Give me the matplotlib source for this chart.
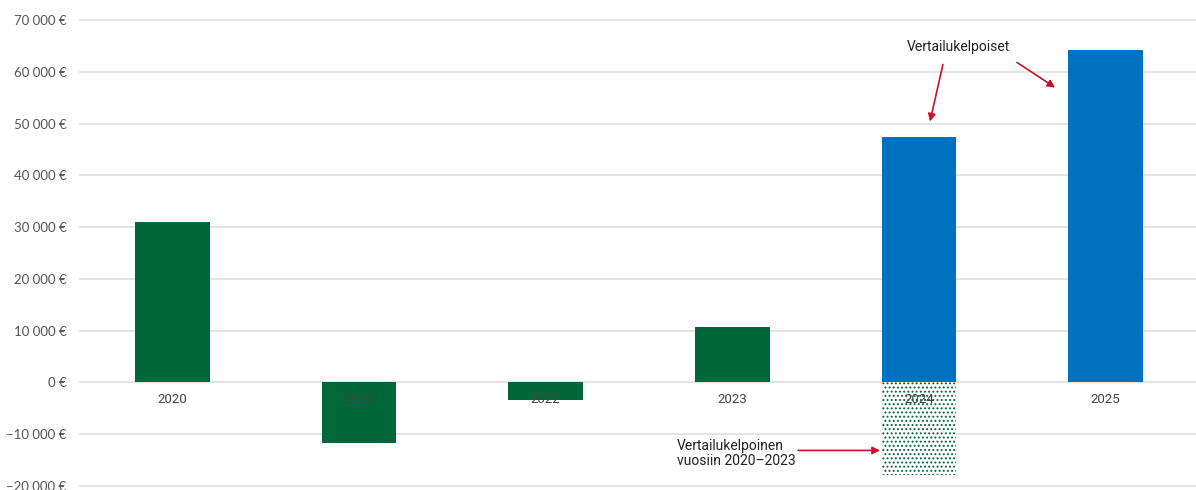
import matplotlib
matplotlib.use('Agg')
import matplotlib.pyplot as plt

# data
years = ["2020", "2021", "2022", "2023", "2024", "2025"]
values = [31000, -11600, -3300, 10800, 47400, 64300]
comparable = [False, False, False, False, True, True]
# 2024 figure restated to be comparable with 2020-2023
restated_year = "2024"
restated_value = -17900

yticks = list(range(-20000, 70001, 10000))

GREEN = "#00673a"
BLUE = "#0070c0"
RED = "#c8102e"
GRID = "#e2e2e2"
TICK = "#555555"

plt.rcParams['font.family'] = ['Roboto', 'DejaVu Sans']
plt.rcParams['hatch.linewidth'] = 0.9


def fmt_eur(v):
    s = f"{abs(v):,}".replace(",", " ") + " €"
    return ("\u2212" + s) if v < 0 else s


fig = plt.figure(figsize=(11.96, 4.9), dpi=100)
ax = fig.add_axes([79 / 1196, 0, 1120 / 1196, 1])

x = list(range(len(years)))
colors = [BLUE if c else GREEN for c in comparable]
ax.bar(x, values, width=0.4, color=colors, zorder=2)

# dotted bar for the restated value
ri = years.index(restated_year)
ax.bar([ri], [restated_value], width=0.4, facecolor="white", edgecolor=GREEN,
       linewidth=0, hatch="....", zorder=2)

ax.set_xlim(-0.5, len(years) - 0.5)
ax.set_ylim(-20772, 73862)

for yv in yticks:
    ax.axhline(yv, color=GRID, lw=1.3, zorder=1)

ax.set_yticks(yticks)
ax.set_yticklabels([fmt_eur(v) for v in yticks])
ax.tick_params(axis="y", length=0, pad=9, labelsize=9.5, labelcolor=TICK)
ax.set_xticks([])
for lab in ax.get_yticklabels():
    lab.set_family(['Lato', 'DejaVu Sans'])

for s in ax.spines.values():
    s.set_visible(False)

# year labels just under the zero line
for i, yr in enumerate(years):
    ax.text(i, -3300, yr, ha="center", va="center", fontsize=9.5,
            color="#444444", zorder=3)

# annotations
ax.text(4.209, 64880, "Vertailukelpoiset", ha="center", va="center",
        fontsize=10, color="#222222")
arrow = dict(arrowstyle="-|>", color=RED, lw=1.2, mutation_scale=11,
             shrinkA=0, shrinkB=0)
ax.annotate("", xy=(4.059, 50400), xytext=(4.128, 61410), arrowprops=arrow)
ax.annotate("", xy=(4.729, 56960), xytext=(4.525, 61800), arrowprops=arrow)

ax.text(2.704, -13710, "Vertailukelpoinen\nvuosiin 2020\u20132023", ha="left",
        va="center", fontsize=10, color="#222222", linespacing=1.15)
ax.annotate("", xy=(3.791, -13130), xytext=(3.352, -13130), arrowprops=arrow)

fig.savefig("out.png", dpi=100)
